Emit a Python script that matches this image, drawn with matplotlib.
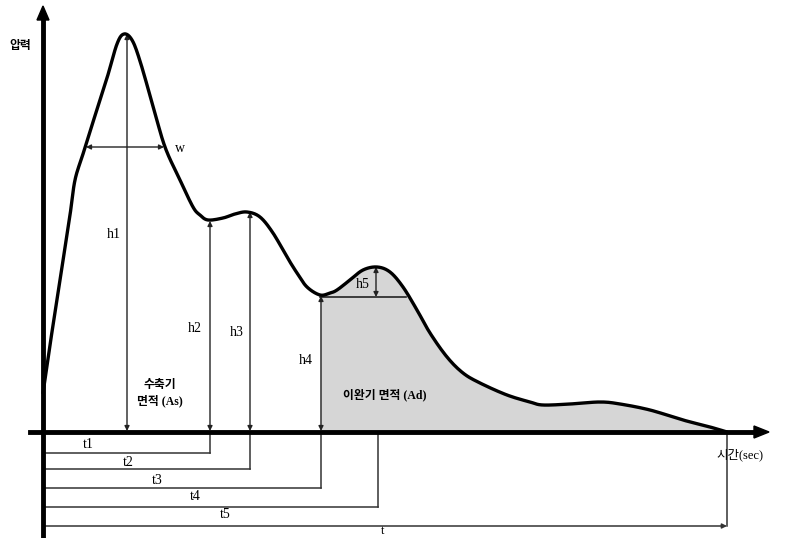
import numpy as np
import matplotlib
matplotlib.use('Agg')
import matplotlib.pyplot as plt

# Points (x: time, y: pressure, image units, y grows downwards)
wave_x = [43, 50, 60, 70, 75, 83, 93, 107, 117, 124, 132, 140, 153, 165, 180, 193, 200,
          208, 223, 235, 247, 260, 273, 287, 297, 307, 320, 330, 337, 350, 363, 377, 390,
          403, 417, 430, 447, 463, 480, 507, 530, 543, 570, 600, 620, 650, 683, 710, 727]
wave_y = [393, 345, 280, 215, 180, 154, 122, 78, 44, 34, 40, 61, 106, 147, 180, 207, 215,
          220, 218, 214, 212, 217, 233, 257, 273, 287, 295, 293, 290, 280, 270, 267, 272,
          287, 310, 333, 357, 373, 383, 395, 402, 405, 404, 402, 404, 410, 420, 427, 432]

baseline = 432
origin_x = 43

# height markers: name, x position, top, label position
h_names = ['h1', 'h2', 'h3', 'h4']
h_x = [127, 210, 250, 321]
h_top = [34, 221, 212, 296]
h_label_xy = [(114, 234), (195, 329), (237, 332), (306, 360)]

h5_x = 376
h5_top = 267
h5_bottom = 297
h5_right = 406

# time markers: label, end x, y of the bracket line, label position
t_names = ['t1', 't2', 't3', 't4', 't5']
t_end = [210, 250, 321, 378, 727]
t_line_y = [453, 469, 488, 507, 526]
t_label_xy = [(88, 444), (128, 462), (157, 480), (195, 497), (225, 514)]

w_left, w_right, w_y = 86, 164, 147

fill_start = 320


def smooth(xs, ys, n=12):
    # catmull-rom path through the traced points, only for drawing a round line
    p = np.column_stack([xs, ys]).astype(float)
    p = np.vstack([p[0], p, p[-1]])
    out = []
    s = np.linspace(0, 1, n, endpoint=False)[:, None]
    for i in range(1, len(p) - 2):
        p0, p1, p2, p3 = p[i - 1], p[i], p[i + 1], p[i + 2]
        seg = 0.5 * ((2 * p1) + (-p0 + p2) * s + (2 * p0 - 5 * p1 + 4 * p2 - p3) * s ** 2
                     + (-p0 + 3 * p1 - 3 * p2 + p3) * s ** 3)
        out.append(seg)
    out.append(p[-2][None, :])
    out = np.vstack(out)
    return out[:, 0], out[:, 1]


fig = plt.figure(figsize=(7.92, 5.38), dpi=100)
ax = fig.add_axes([0, 0, 1, 1])
ax.set_xlim(0, 792)
ax.set_ylim(538, 0)
ax.axis('off')

fonts = ['Liberation Serif', 'Noto Sans CJK KR']
kor = ['Noto Sans CJK KR']

sx, sy = smooth(wave_x, wave_y)

# shaded diastolic area
m = sx >= fill_start
fx = np.concatenate([[fill_start], sx[m]])
fy = np.concatenate([[np.interp(fill_start, sx, sy)], sy[m]])
ax.fill_between(fx, fy, baseline, color='#d6d6d6', lw=0, zorder=1)

# waveform
ax.plot(sx, sy, color='black', lw=2.4, solid_capstyle='round', zorder=4)

# axes with arrows
ax.plot([origin_x, origin_x], [537, 18], color='black', lw=3.5, zorder=5)
ax.plot([30, 756], [baseline, baseline], color='black', lw=3.5, zorder=5)
ax.fill([origin_x - 6, origin_x + 6, origin_x], [20, 20, 6], color='black', zorder=5)
ax.fill([754, 754, 769], [baseline - 6, baseline + 6, baseline], color='black', zorder=5)

arrow_kw = dict(arrowstyle='<|-|>', color='#222222', lw=1.0, mutation_scale=7,
                shrinkA=0, shrinkB=0)

for name, x, top, (lx, ly) in zip(h_names, h_x, h_top, h_label_xy):
    ax.annotate('', xy=(x, top), xytext=(x, baseline - 1), arrowprops=arrow_kw, zorder=3)
    ax.text(lx, ly, name, fontsize=10, family=fonts, ha='center', va='center')

# h5
ax.annotate('', xy=(h5_x, h5_top), xytext=(h5_x, h5_bottom), arrowprops=arrow_kw, zorder=3)
ax.plot([fill_start, h5_right], [h5_bottom, h5_bottom], color='#222222', lw=1.2, zorder=3)
ax.text(363, 285, 'h5', fontsize=10, family=fonts, ha='center', va='center')

# w
ax.annotate('', xy=(w_left, w_y), xytext=(w_right, w_y), arrowprops=arrow_kw, zorder=3)
ax.text(180, 149, 'w', fontsize=10, family=fonts, ha='center', va='center')

# time brackets
for name, xe, ly, (tx, ty) in zip(t_names, t_end, t_line_y, t_label_xy):
    ax.plot([xe, xe], [baseline, ly], color='#333333', lw=1.1, zorder=2)
    if name == 't5':
        ax.annotate('', xy=(xe, ly), xytext=(origin_x, ly),
                    arrowprops=dict(arrowstyle='-|>', color='#333333', lw=1.1,
                                    mutation_scale=7, shrinkA=0, shrinkB=0))
    else:
        ax.plot([origin_x, xe], [ly, ly], color='#333333', lw=1.1, zorder=2)
    ax.text(tx, ty, name, fontsize=10, family=fonts, ha='center', va='center')
ax.text(383, 531, 't', fontsize=9, family=fonts, ha='center', va='center')

# area labels and axis titles
ax.text(160, 393, '수축기\n면적 (As)', fontsize=8.5, family=fonts, ha='center', va='center',
        fontweight='bold', linespacing=1.4)
ax.text(385, 395, '이완기 면적 (Ad)', fontsize=8.5, family=fonts, ha='center', va='center',
        fontweight='bold')
ax.text(20, 46, '압력', fontsize=8.5, family=kor, ha='center', va='center', fontweight='bold')
ax.text(740, 455, '시간(sec)', fontsize=9, family=fonts, ha='center', va='center')

fig.savefig('out.png', dpi=100)
